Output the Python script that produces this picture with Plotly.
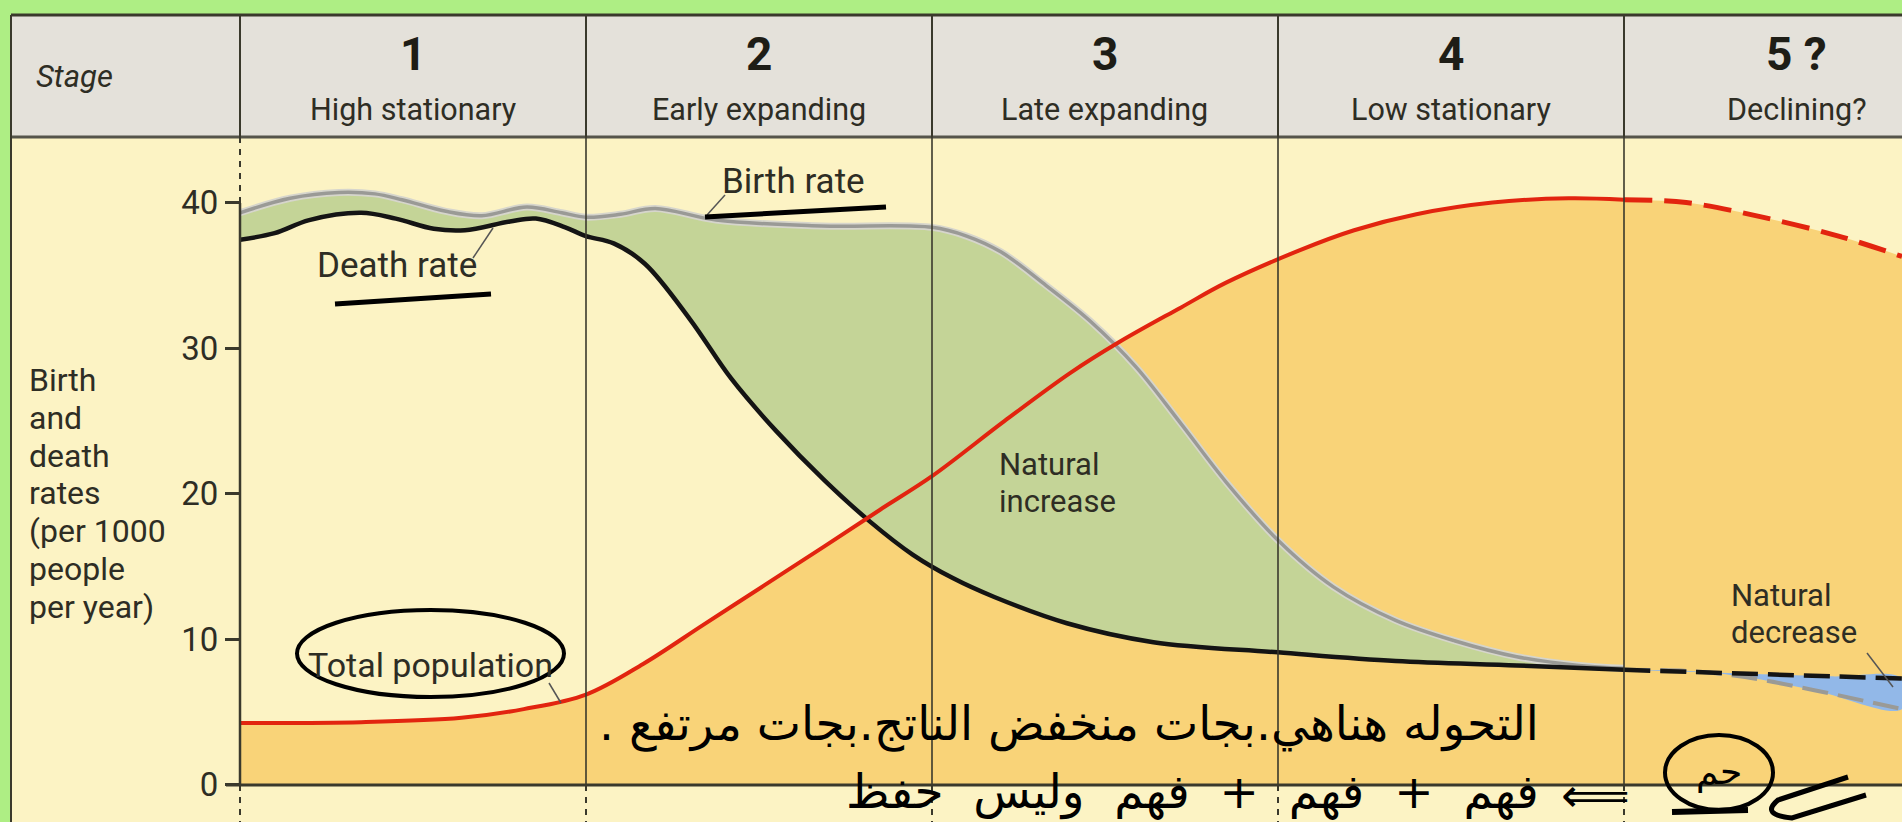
import plotly.graph_objects as go

# ---- data -------------------------------------------------------------
stage_nums = ["1", "2", "3", "4", "5 ?"]
stage_names = ["High stationary", "Early expanding", "Late expanding", "Low stationary", "Declining?"]
y_ticks = [0, 10, 20, 30, 40]
y_title = ["Birth", "and", "death", "rates", "(per 1000", "people", "per year)"]

# x in stage units (0 = start of stage 1), y = rate per 1000 people per year
birth_x = [0.0, 0.145, 0.286, 0.39, 0.468, 0.595, 0.699, 0.829, 0.93, 1.0, 1.1, 1.2, 1.376,
           1.68, 2.0, 2.1, 2.2, 2.33, 2.46, 2.59, 2.72, 2.85, 3.0, 3.16, 3.34, 3.51, 3.69, 3.87, 4.0]
birth_y = [39.3, 40.3, 40.7, 40.6, 40.2, 39.4, 39.1, 39.7, 39.3, 39.0, 39.2, 39.6, 38.8,
           38.4, 38.3, 37.7, 36.6, 34.3, 31.8, 28.7, 24.8, 20.8, 16.8, 13.6, 11.3, 9.9, 8.8, 8.2, 8.0]
death_x = [0.0, 0.1, 0.2, 0.35, 0.45, 0.56, 0.65, 0.78, 0.855, 0.94, 1.0, 1.08, 1.17, 1.3,
           1.42, 1.55, 1.69, 1.82, 1.945, 2.06, 2.18, 2.39, 2.64, 3.0, 3.34, 3.69, 4.0]
death_y = [37.45, 37.9, 38.8, 39.3, 38.9, 38.2, 38.1, 38.7, 38.9, 38.3, 37.7, 37.2, 35.8, 32.0,
           27.9, 24.3, 20.9, 18.1, 15.8, 14.2, 12.9, 11.1, 9.8, 9.1, 8.5, 8.2, 7.9]
birth_future_x = [4.0, 4.2, 4.35, 4.55, 4.8035]
birth_future_y = [7.9, 7.8, 7.4, 6.5, 5.2]
death_future_x = [4.0, 4.2, 4.4, 4.6, 4.8035]
death_future_y = [7.9, 7.75, 7.6, 7.45, 7.3]
pop_x = [0.0, 0.35, 0.64, 0.82, 1.0, 1.165, 1.34, 1.515, 1.69, 1.85, 2.0, 2.21, 2.4, 2.54,
         2.72, 2.85, 3.06, 3.22, 3.4, 3.62, 3.84, 4.0]
pop_y = [4.25, 4.3, 4.6, 5.2, 6.2, 8.3, 11.0, 13.7, 16.4, 18.9, 21.2, 25.0, 28.3, 30.4,
         32.8, 34.5, 36.7, 38.1, 39.2, 40.0, 40.3, 40.2]
pop_future_x = [4.0, 4.18, 4.4, 4.62, 4.8035]
pop_future_y = [40.2, 40.0, 39.0, 37.7, 36.3]

# ---- look -------------------------------------------------------------
W, H, ML = 1902, 822, 240
FONT = "Roboto, Liberation Sans, sans-serif"
HAND = "DejaVu Sans, sans-serif"
TXT = "#2e2d24"
LINE = "#3a392c"
GREEN_BORDER = "#aeee84"
HEADER = "#e4e1da"
YELLOW = "#fcf3c4"
ORANGE = "#f9d378"
GREEN = "#c4d497"
BLUE = "#92b8e8"
NB = "\u00a0"


def px(x):
    return (x - ML) / (W - ML)


def py(y):
    return 1 - y / H


fig = go.Figure()

fig.add_trace(go.Scatter(x=pop_x + pop_future_x[1:], y=pop_y + pop_future_y[1:], fill="tozeroy",
                         fillcolor=ORANGE, mode="lines", line=dict(width=0, shape="spline"),
                         hoverinfo="skip"))
fig.add_trace(go.Scatter(x=birth_x + death_x[::-1], y=birth_y + death_y[::-1], fill="toself",
                         fillcolor=GREEN, mode="lines", line=dict(width=0, shape="spline"),
                         hoverinfo="skip"))
fig.add_trace(go.Scatter(x=death_future_x + birth_future_x[::-1],
                         y=death_future_y + birth_future_y[::-1], fill="toself",
                         fillcolor=BLUE, mode="lines", line=dict(width=0, shape="spline"),
                         hoverinfo="skip"))
# birth rate
fig.add_trace(go.Scatter(x=birth_x, y=birth_y, mode="lines", hoverinfo="skip",
                         line=dict(color="#d6d5cc", width=7, shape="spline")))
fig.add_trace(go.Scatter(x=birth_x, y=birth_y, mode="lines", hoverinfo="skip",
                         line=dict(color="#9a9a96", width=3.5, shape="spline")))
fig.add_trace(go.Scatter(x=birth_future_x, y=birth_future_y, mode="lines", hoverinfo="skip",
                         line=dict(color="#9a9a96", width=4, dash="26px,10px", shape="spline")))
# death rate
fig.add_trace(go.Scatter(x=death_x, y=death_y, mode="lines", hoverinfo="skip",
                         line=dict(color="#141414", width=4.5, shape="spline")))
fig.add_trace(go.Scatter(x=death_future_x, y=death_future_y, mode="lines", hoverinfo="skip",
                         line=dict(color="#141414", width=4.5, dash="26px,10px", shape="spline")))
# total population
fig.add_trace(go.Scatter(x=pop_x, y=pop_y, mode="lines", hoverinfo="skip",
                         line=dict(color="#e2240f", width=4, shape="spline")))
fig.add_trace(go.Scatter(x=pop_future_x, y=pop_future_y, mode="lines", hoverinfo="skip",
                         line=dict(color="#e2240f", width=5, dash="28px,12px", shape="spline")))

shapes = []


def rect(x0, y0, x1, y1, color, layer="below"):
    shapes.append(dict(type="rect", xref="paper", yref="paper", x0=px(x0), x1=px(x1),
                       y0=py(y1), y1=py(y0), fillcolor=color, line_width=0, layer=layer))


def seg(x0, y0, x1, y1, color=LINE, width=2, dash="solid"):
    shapes.append(dict(type="line", xref="paper", yref="paper", x0=px(x0), x1=px(x1),
                       y0=py(y0), y1=py(y1), line=dict(color=color, width=width, dash=dash),
                       layer="above"))


# frame and header
rect(0, 0, 11, H, GREEN_BORDER)
rect(0, 0, W, 15, GREEN_BORDER)
rect(11, 15, W, 137, HEADER)
seg(11, 15, W, 15, width=3)
seg(11, 137, W, 137, color="#55544a", width=3)
seg(11, 15, 11, H, width=2)

# stage boundaries
for k in range(5):
    xp = ML + 346 * k
    seg(xp, 15, xp, 137, width=2)
    if k == 0:
        seg(xp, 137, xp, 203, width=2, dash="6px,6px")
        seg(xp, 203, xp, 785, width=2.5)
    else:
        seg(xp, 137, xp, 785, width=1.6)
    seg(xp, 785, xp, H, width=2, dash="6px,6px")
seg(226, 785, W, 785, width=3)

# leader lines
seg(473, 258, 493, 228, color="#555", width=1.5)
seg(725, 195, 707, 215, color="#555", width=1.5)
seg(549, 683, 561, 703, color="#555", width=1.5)
seg(1867, 653, 1893, 687, color="#555", width=1.5)

# handwriting
seg(335, 304, 491, 294, color="#000", width=5)
seg(705, 217, 886, 207, color="#000", width=5)
shapes.append(dict(type="circle", xref="paper", yref="paper", x0=px(297), x1=px(564),
                   y0=py(697), y1=py(610), line=dict(color="#000", width=4), layer="above"))
shapes.append(dict(type="circle", xref="paper", yref="paper", x0=px(1665), x1=px(1773),
                   y0=py(810), y1=py(735), line=dict(color="#000", width=4), layer="above"))
seg(1672, 812, 1748, 810, color="#000", width=6)
path = "M {} {} L {} {} Q {} {} {} {} L {} {}".format(
    px(1848), py(777), px(1778), py(800), px(1760), py(815), px(1792), py(818), px(1866), py(795))
shapes.append(dict(type="path", xref="paper", yref="paper", path=path,
                   line=dict(color="#000", width=5), layer="above"))

annotations = []


def label(x, y, text, size, xanchor="center", color=TXT, family=FONT, xref="paper"):
    annotations.append(dict(x=px(x) if xref == "paper" else x, y=py(y), xref=xref, yref="paper",
                            text=text, showarrow=False, xanchor=xanchor, yanchor="middle",
                            font=dict(family=family, size=size, color=color)))


label(34, 77, "<i>Stage</i>", 31, xanchor="left")
for i, (num, name) in enumerate(zip(stage_nums, stage_names)):
    label(i + 0.5, 54, "<b>" + num + "</b>", 46, xref="x", color="#1e1d16")
    label(i + 0.5, 109, name, 30.5, xref="x")

for i, line in enumerate(y_title):
    label(27, 380 + i * 37.8, line, 32, xanchor="left")

label(397, 266, "Death rate", 35)
label(793, 181, "Birth rate", 35)
label(997, 464, "Natural", 31, xanchor="left")
label(997, 501, "increase", 31, xanchor="left")
label(1729, 595, "Natural", 31, xanchor="left")
label(1729, 632, "decrease", 31, xanchor="left")
label(430, 665, "Total population", 34)

label(1069, 724, ". التحوله هناهي.بجات منخفض الناتج.بجات مرتفع", 47, color="#000", family=HAND)
label(1192, 792, NB.join("فهم + فهم + فهم وليس حفظ".split(" ")).replace(NB, NB * 2),
      47, color="#000", family=HAND)
label(1595, 795, "⟸", 48, color="#000", family=HAND)
label(1719, 772, "حم", 36, color="#000", family=HAND)

fig.update_layout(
    width=W, height=H,
    margin=dict(l=ML, r=0, t=0, b=0),
    paper_bgcolor=YELLOW, plot_bgcolor=YELLOW,
    showlegend=False,
    shapes=shapes, annotations=annotations,
    xaxis=dict(range=[0, 4.8035], showgrid=False, zeroline=False, showticklabels=False,
               showline=False, fixedrange=True),
    yaxis=dict(range=[-2.556, 53.92], showgrid=False, zeroline=False, showline=False,
               tickvals=y_ticks, ticks="outside", ticklen=14, tickwidth=2.5, tickcolor=LINE,
               tickfont=dict(family=FONT, size=33, color=TXT), fixedrange=True),
)

fig.write_html("out.html", config={"displayModeBar": False},
               post_script="document.body.style.margin='0';")
